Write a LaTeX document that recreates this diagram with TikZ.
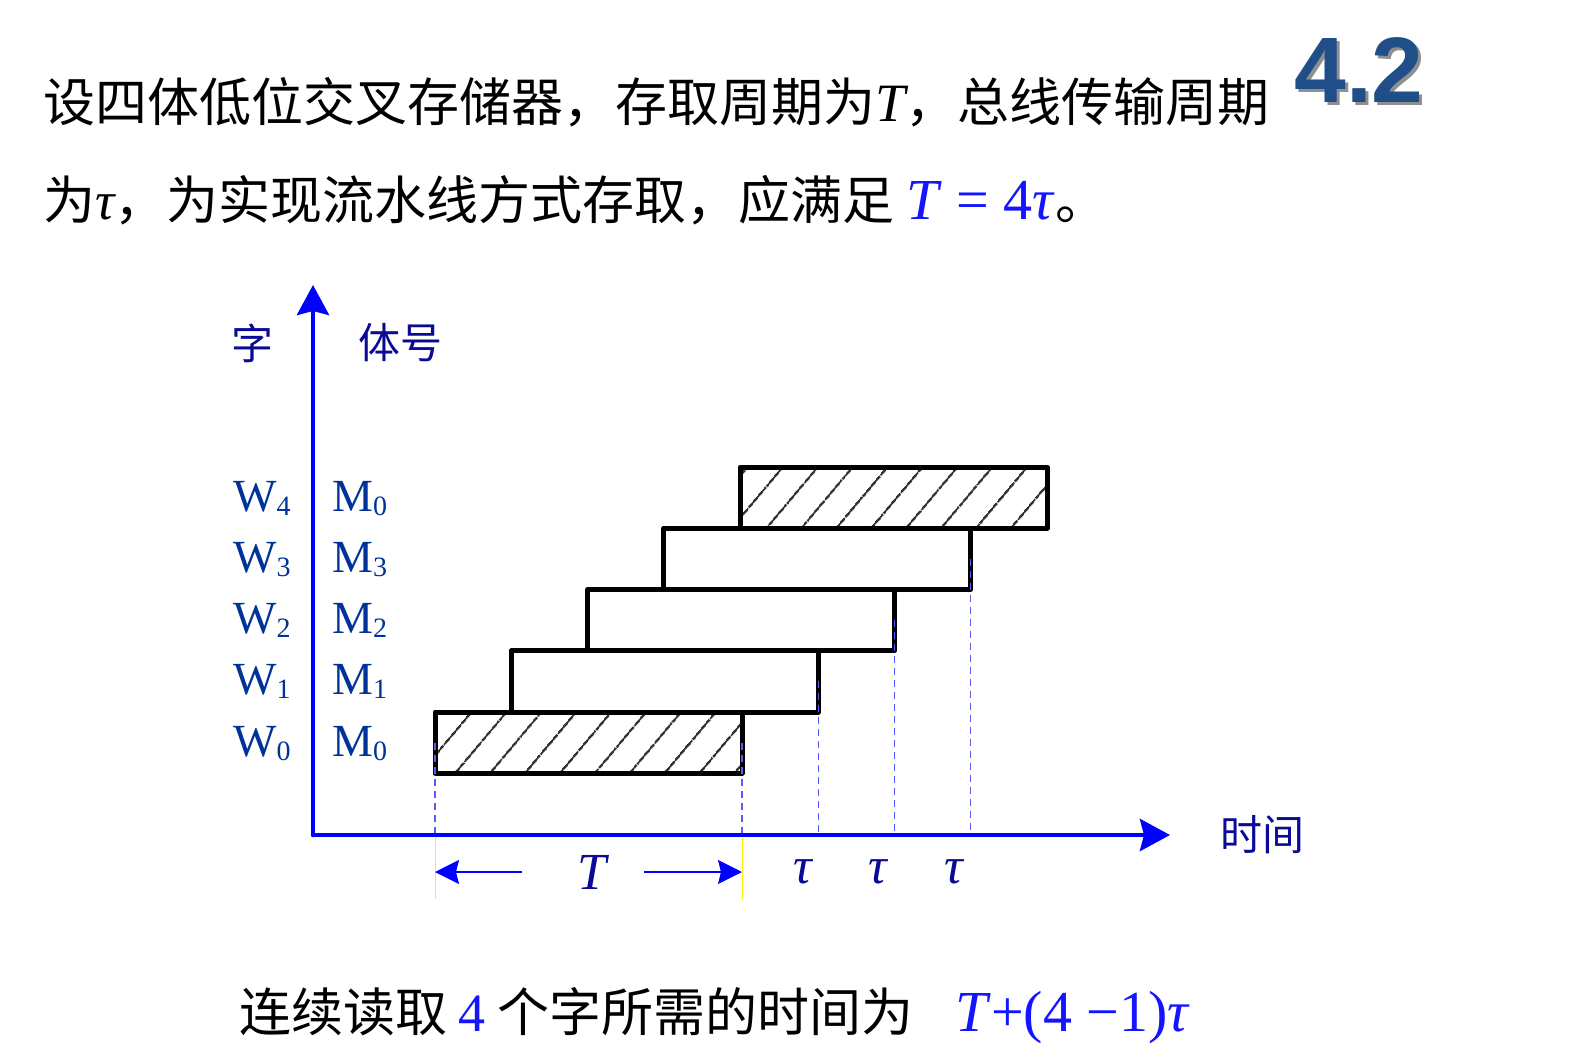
\documentclass[tikz,border=0pt]{standalone}
\usepackage{fontspec}
\setmainfont{Liberation Serif}
\newfontfamily\cjk{Noto Sans CJK SC}
\newfontfamily\headfont{Liberation Sans}
\usetikzlibrary{positioning,arrows.meta,patterns.meta}
\definecolor{axisblue}{RGB}{0,0,255}
\definecolor{labnavy}{RGB}{10,10,150}
\definecolor{rownavy}{RGB}{0,51,153}
\definecolor{guideblue}{RGB}{90,90,255}
\definecolor{mathblue}{RGB}{20,20,255}
\definecolor{headblue}{RGB}{31,78,137}
\newcommand\rowsub[1]{\raisebox{-4pt}{\fontsize{28}{28}\selectfont #1}}
\newcommand\latpart[1]{{\rmfamily\fontsize{54}{54}\selectfont #1}}
\newcommand\mathpart[1]{{\rmfamily\fontsize{58}{58}\selectfont #1}}
\tikzset{
  slot/.style={draw=black, line width=5pt, line join=round, minimum width=307pt, minimum height=61.25pt, anchor=north west, inner sep=0pt, outer sep=0pt},
  hatched slot/.style={slot, pattern={Lines[angle=50,distance=27pt,line width=2.2pt]}, pattern color=black!80},
  axis/.style={draw=axisblue, line width=4.5pt, line cap=round, -{Stealth[length=30pt,width=32pt,inset=4pt]}},
  guide/.style={draw=guideblue, line width=1.3pt, dash pattern=on 7pt off 5pt},
  marker/.style={draw=yellow, line width=1pt},
  span arrow/.style={draw=axisblue, line width=1.5pt, -{Stealth[length=24pt,width=24pt,inset=3pt]}},
  row label/.style={anchor=base west, text=rownavy, font=\fontsize{46}{46}\selectfont, inner sep=0pt},
  axis label/.style={text=labnavy, font=\cjk\fontsize{42}{42}\selectfont, inner sep=0pt},
  time label/.style={text=labnavy, font=\fontsize{52}{52}\selectfont\itshape, inner sep=0pt},
  prose/.style={anchor=west, font=\cjk\fontsize{52}{52}\selectfont, inner sep=0pt},
}

\begin{document}
\begin{tikzpicture}[x=1pt,y=-1pt]
\useasboundingbox (0,0) rectangle (1592,1060);
%the texts
\node[prose] (qA) at (43,102) {设四体低位交叉存储器，存取周期为\latpart{\itshape T}，总线传输周期};
\node[prose] (qB) at (43,200) {为\latpart{\itshape τ}，为实现流水线方式存取，应满足 {\color{mathblue}\mathpart{\textit{T} = 4\textit{τ}}}。};
\node[prose] (qC) at (239,1016) {连续读取 {\color{mathblue}\latpart{4}} 个字所需的时间为\hspace{42pt}{\color{mathblue}\mathpart{\textit{T}+(4 −1)\textit{τ}}}};
\node[font=\headfont\bfseries\fontsize{93}{93}\selectfont, text=black!55, opacity=0.8] (hS) at (1362,73) {4.2};
\node[font=\headfont\bfseries\fontsize{93}{93}\selectfont, text=headblue] (hA) at (1359,70) {4.2};
%the axes
\coordinate (o) at (313,835);
\coordinate (yT) at (313,285);
\coordinate (xT) at (1170,835);
\node[axis label] (aW) at (252,343) {字};
\node[axis label] (aM) at (400,343) {体号};
\node[axis label] (aT) at (1262,835) {时间};
%the slots
\node[hatched slot] (bA) at (435,712) {};
\node[slot] (bB) at (511.25,650.75) {};
\node[slot] (bC) at (587.5,589.5) {};
\node[slot] (bD) at (663.75,528.25) {};
\node[hatched slot] (bE) at (740,467) {};
%the row labels
\node[row label] (wA) at (233,756) {W\rowsub{0}};
\node[row label] (wB) at (233,694.75) {W\rowsub{1}};
\node[row label] (wC) at (233,633.5) {W\rowsub{2}};
\node[row label] (wD) at (233,572.25) {W\rowsub{3}};
\node[row label] (wE) at (233,511) {W\rowsub{4}};
\node[row label] (mA) at (332,756) {M\rowsub{0}};
\node[row label] (mB) at (332,694.75) {M\rowsub{1}};
\node[row label] (mC) at (332,633.5) {M\rowsub{2}};
\node[row label] (mD) at (332,572.25) {M\rowsub{3}};
\node[row label] (mE) at (332,511) {M\rowsub{0}};
%the time labels
\node[time label] (lT) at (592,872) {T};
\node[time label] (tA) at (803,872) {τ};
\node[time label] (tB) at (878,872) {τ};
\node[time label] (tC) at (954,872) {τ};
\coordinate (sL) at (522,872);
\coordinate (sR) at (644,872);
%drawings of lines
\draw[guide] (bA.west) -- (bA.west |- o);
\draw[guide] (bA.east) -- (bA.east |- o);
\draw[guide] (bB.east) -- (bB.east |- o);
\draw[guide] (bC.east) -- (bC.east |- o);
\draw[guide] (bD.east) -- (bD.east |- o);
\draw[marker] (bA.west |- o) -- ++(0,64);
\draw[marker] (bA.east |- o) -- ++(0,64);
\draw[axis] (o) -- (yT);
\draw[axis] (o) -- (xT);
\draw[span arrow] (sL) -- (bA.west |- lT);
\draw[span arrow] (sR) -- (bA.east |- lT);
\end{tikzpicture}
\end{document}
